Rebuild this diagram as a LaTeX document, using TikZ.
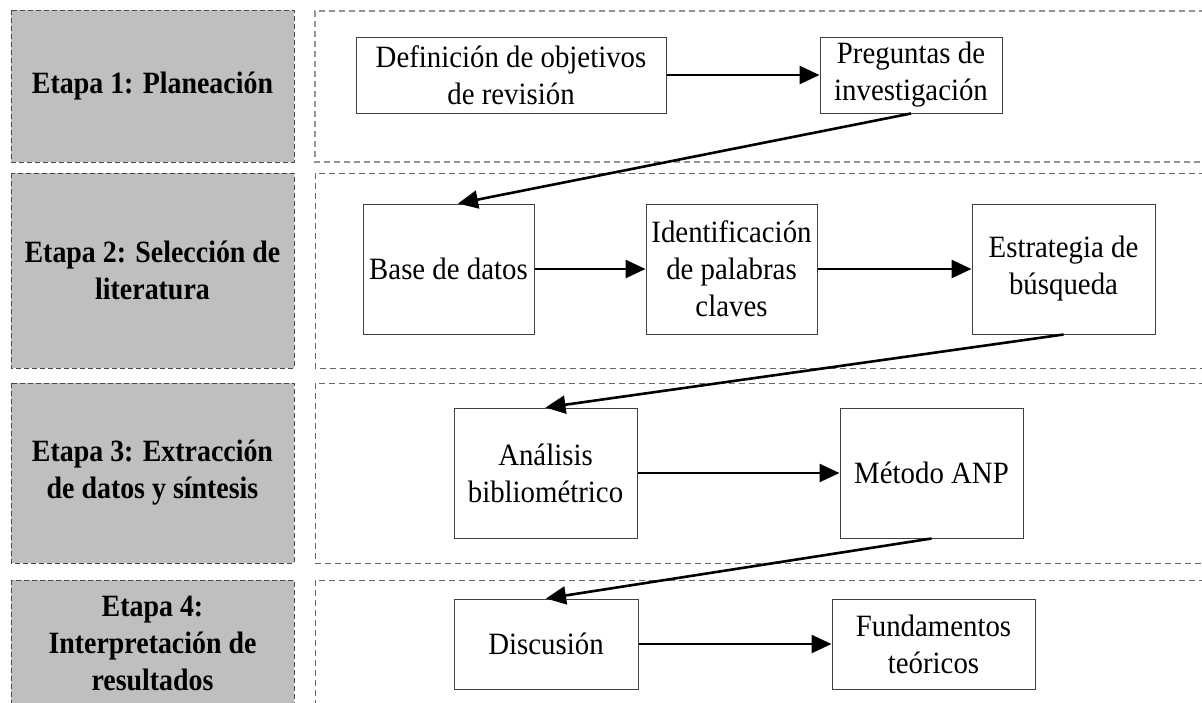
\documentclass[tikz,border=0pt]{standalone}
\usepackage{fontspec}
\setmainfont[FakeStretch=0.93]{Liberation Serif}
\newfontfamily\stagefont[FakeStretch=0.9]{Liberation Serif}
\usetikzlibrary{arrows.meta}
\definecolor{stagefill}{HTML}{BFBFBF}
\definecolor{stageedge}{HTML}{4A4A4A}
\definecolor{paneledge}{HTML}{666666}
\definecolor{boxedge}{HTML}{404040}
\tikzset{
  stagebox/.style={draw=stageedge, fill=stagefill, line width=0.5pt,
    dash pattern=on 2.5pt off 1.5pt},
  stagelabel/.style={font=\stagefont\fontsize{15.5pt}{18.5pt}\selectfont\bfseries,
    align=center, inner sep=0pt},
  panelbox/.style={draw=paneledge, line width=0.5pt,
    dash pattern=on 3pt off 2pt},
  stepbox/.style={draw=boxedge, line width=0.5pt, fill=white, inner sep=0pt,
    align=center, font=\fontsize{15.5pt}{18.5pt}\selectfont},
  flow/.style={line width=1.3pt, -{Triangle[length=10pt,width=9pt]}}
}
\begin{document}
\begin{tikzpicture}[x=0.5pt, y=-0.5pt]
\useasboundingbox (0,0) rectangle (1202,702);
\clip (0,0) rectangle (1202,702);

% stage columns (left) and their panels (right)
\draw[stagebox] (11,10) rectangle (294,162);
\draw[stagebox] (11,173) rectangle (294,368);
\draw[stagebox] (11,383) rectangle (294,563);
\draw[stagebox] (11,580) rectangle (294,706);

\draw[panelbox, line width=0.9pt, draw=gray!85] (1215,11) -- (315,11) -- (315,162) -- (1215,162);
\draw[panelbox] (1215,173) -- (315,173) -- (315,368) -- (1215,368);
\draw[panelbox] (1215,383) -- (315,383) -- (315,563) -- (1215,563);
\draw[panelbox] (1215,580) -- (315,580) -- (315,720);

\node[stagelabel] (s1) at (152.5,86) {Etapa 1: Planeación};
\node[stagelabel] (s2) at (152.5,270.5) {Etapa 2: Selección de\\literatura};
\node[stagelabel] (s3) at (152.5,473) {Etapa 3: Extracción\\de datos y síntesis};
\node[stagelabel] (s4) at (152.5,643) {Etapa 4:\\Interpretación de\\resultados};

% steps
\node[stepbox, minimum width=155pt, minimum height=38pt] (def) at (511,75)
  {Definición de objetivos\\de revisión};
\node[stepbox, minimum width=91pt, minimum height=38pt] (preg) at (911,75)
  {Preguntas de\\investigación};

\node[stepbox, minimum width=85.5pt, minimum height=65pt] (base) at (448.5,269)
  {Base de datos};
\node[stepbox, minimum width=85.5pt, minimum height=65pt] (ident) at (731.5,269)
  {Identificación\\de palabras\\claves};
\node[stepbox, minimum width=91.5pt, minimum height=65pt] (estr) at (1063.5,269)
  {Estrategia de\\búsqueda};

\node[stepbox, minimum width=91.5pt, minimum height=65pt] (anal) at (545.5,473)
  {Análisis\\bibliométrico};
\node[stepbox, minimum width=91.5pt, minimum height=65pt] (metodo) at (931.5,473)
  {Método ANP};

\node[stepbox, minimum width=92pt, minimum height=45pt] (disc) at (546,644)
  {Discusión};
\node[stepbox, minimum width=101.5pt, minimum height=45pt] (fund) at (933.5,644)
  {Fundamentos\\teóricos};

% connectors
\draw[flow] (def) -- (preg);
\draw[flow] (preg.south) -- ([xshift=4.75pt]base.north);
\draw[flow] (base) -- (ident);
\draw[flow] (ident) -- (estr);
\draw[flow] (estr.south) -- (anal.north);
\draw[flow] (anal) -- (metodo);
\draw[flow] (metodo.south) -- (disc.north);
\draw[flow] (disc) -- (fund);
\end{tikzpicture}
\end{document}
